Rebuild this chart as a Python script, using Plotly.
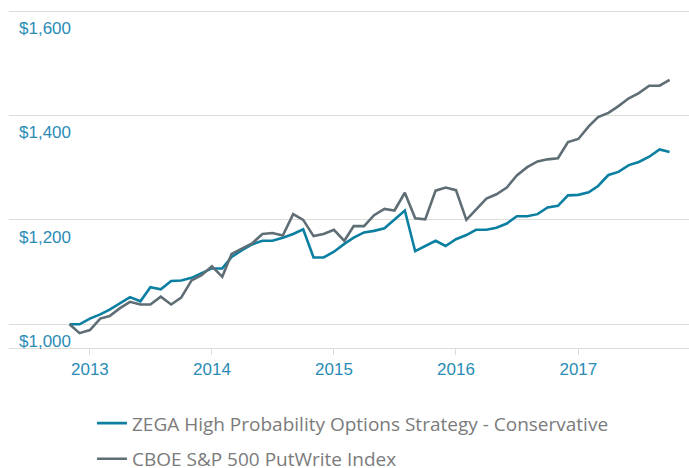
import plotly.graph_objects as go
import pandas as pd

dates = pd.date_range("2012-11-01", periods=60, freq="MS")

zega = [1000, 1000, 1011, 1019, 1028, 1040, 1052, 1044, 1071, 1067,
        1083, 1084, 1089, 1098, 1107, 1107, 1129, 1142, 1153, 1160,
        1160, 1166, 1173, 1182, 1128, 1128, 1139, 1154, 1166, 1176,
        1179, 1184, 1200, 1218, 1140, 1150, 1160, 1150, 1163, 1171,
        1181, 1181, 1185, 1193, 1207, 1207, 1211, 1224, 1227, 1247,
        1248, 1253, 1265, 1286, 1292, 1305, 1311, 1321, 1335, 1330]

putwrite = [1000, 983, 989, 1011, 1016, 1031, 1043, 1038, 1038, 1053,
            1038, 1051, 1084, 1094, 1111, 1091, 1135, 1145, 1155, 1173,
            1175, 1170, 1211, 1200, 1169, 1173, 1181, 1160, 1188, 1188,
            1209, 1221, 1218, 1252, 1203, 1201, 1256, 1262, 1257, 1200,
            1220, 1241, 1249, 1262, 1285, 1301, 1312, 1316, 1318, 1349,
            1355, 1379, 1397, 1405, 1418, 1433, 1443, 1457, 1457, 1468]

series_names = ["ZEGA High Probability Options Strategy - Conservative",
                "CBOE S&P 500 PutWrite Index"]

y_ticks = [1000, 1200, 1400, 1600]
y_tick_labels = ["$1,000", "$1,200", "$1,400", "$1,600"]
x_ticks = ["2013-01-01", "2014-01-01", "2015-01-01", "2016-01-01", "2017-01-01"]
x_tick_labels = ["2013", "2014", "2015", "2016", "2017"]

TEAL = "#0b7fa1"
GRAY = "#5f6d75"
LABEL = "#2a8cb6"
GRID = "#dcdfd8"

fig = go.Figure()
fig.add_trace(go.Scatter(x=dates, y=zega, mode="lines", name=series_names[0],
                         line=dict(color=TEAL, width=2.6), legendgroup="a"))
fig.add_trace(go.Scatter(x=dates, y=putwrite, mode="lines", name=series_names[1],
                         line=dict(color=GRAY, width=2.6), legendgroup="b"))

for v, t in zip(y_ticks, y_tick_labels):
    fig.add_annotation(x=0.0118, xref="paper", y=v, yref="y", text=t,
                       showarrow=False, xanchor="left", yanchor="top", yshift=-6,
                       font=dict(family="Arial, Liberation Sans", size=17, color=LABEL))

fig.update_layout(
    width=689, height=468,
    margin=dict(l=9, r=0, t=9, b=120, autoexpand=False),
    paper_bgcolor="white", plot_bgcolor="white",
    showlegend=True,
    legend=dict(x=0.122, xanchor="left", y=-0.166, yanchor="top",
                font=dict(family="Open Sans", size=19, color="#7b7b7b"),
                tracegroupgap=8, bgcolor="rgba(0,0,0,0)"),
    xaxis=dict(range=["2012-05-04", "2017-11-28"], tickvals=x_ticks, ticktext=x_tick_labels,
               showgrid=False, showline=True, linecolor=GRID, linewidth=1,
               ticks="outside", ticklen=6, tickcolor=GRID, tickwidth=1,
               tickfont=dict(family="Arial, Liberation Sans", size=17, color=LABEL),
               zeroline=False),
    yaxis=dict(range=[954.6, 1604], tickvals=y_ticks, showticklabels=False,
               showgrid=True, gridcolor=GRID, gridwidth=1, zeroline=False, showline=False),
)

fig.write_html("out.html", config={"displayModeBar": False},
               post_script="document.body.style.margin='0';document.body.style.overflow='hidden';")
